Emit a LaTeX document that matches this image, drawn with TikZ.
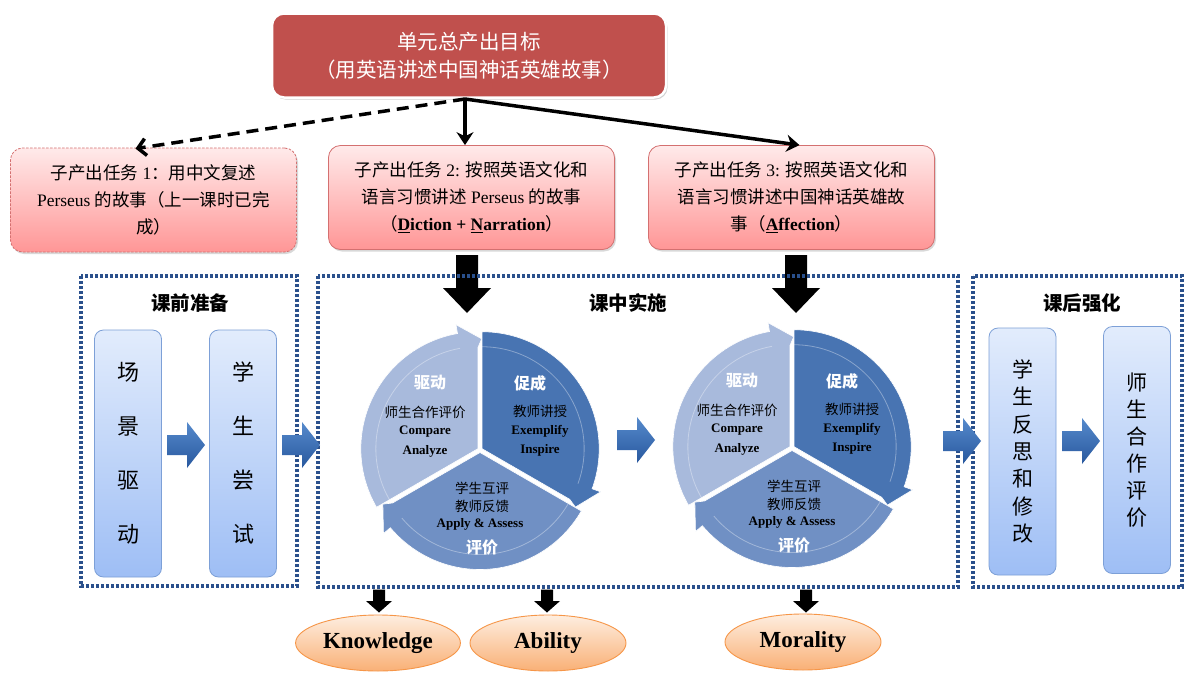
\documentclass[tikz,border=0pt]{standalone}
\usepackage{fontspec}
\setmainfont{Liberation Serif}
\newfontfamily\cjk{Noto Sans CJK SC}
\usetikzlibrary{arrows.meta,shapes.geometric,shadows,calc}
\newcommand\zh[1]{{\cjk #1}}
\definecolor{goalred}{RGB}{192,80,77}
\definecolor{taskTop}{RGB}{255,234,234}
\definecolor{taskBot}{RGB}{255,150,150}
\definecolor{taskBorder}{RGB}{212,112,112}
\definecolor{blueTop}{RGB}{226,236,252}
\definecolor{blueBot}{RGB}{158,190,245}
\definecolor{blueBorder}{RGB}{125,160,215}
\definecolor{arrTop}{RGB}{86,138,204}
\definecolor{arrBot}{RGB}{40,88,158}
\definecolor{segA}{RGB}{168,186,220}
\definecolor{segB}{RGB}{72,116,178}
\definecolor{segC}{RGB}{112,144,196}
\definecolor{orTop}{RGB}{254,238,224}
\definecolor{orBot}{RGB}{249,176,118}
\definecolor{orBorder}{RGB}{246,150,72}
\definecolor{dotblue}{RGB}{42,80,140}
\newcommand\segment[4]{%
  \begin{scope}[shift={(#1:2.5pt)}]
    \fill[#4, draw=white, line width=0.6pt] (0,0) -- (#2:117pt)
      arc[start angle=#2, end angle={#3+10}, radius=117pt]
      -- ({#3+10}:126pt) -- ({#3-2}:110pt) -- (#3:101pt) -- cycle;
    \draw[white, opacity=0.35, line width=0.8pt] (#2:102pt)
      arc[start angle=#2, end angle={#3+10}, radius=102pt];
  \end{scope}}
\newcommand\cyc[2]{%
  \begin{scope}[shift={#2}]
    \segment{30}{90}{-30}{segB}
    \segment{270}{330}{210}{segC}
    \segment{150}{210}{90}{segA}
    \node[hdr] (#1-drive) at (-50,-67) {驱动};
    \node[ctext] (#1-d1) at (-55,-38) {\zh{师生合作评价}};
    \node[etext] (#1-d2) at (-55,-18) {Compare};
    \node[etext] (#1-d3) at (-55,1) {Analyze};
    \node[hdr] (#1-promote) at (50,-67) {促成};
    \node[ctext] (#1-p1) at (60,-39) {\zh{教师讲授}};
    \node[etext] (#1-p2) at (60,-19) {Exemplify};
    \node[etext] (#1-p3) at (60,0) {Inspire};
    \node[ctext] (#1-e1) at (2,38) {\zh{学生互评}};
    \node[ctext] (#1-e2) at (2,56) {\zh{教师反馈}};
    \node[etext] (#1-e3) at (0,74) {Apply \& Assess};
    \node[hdr] (#1-eval) at (2,97) {评价};
  \end{scope}}
\begin{document}
\begin{tikzpicture}[x=1pt,y=-1pt,
  goal/.style={rounded corners=12pt, fill=goalred, draw=white, line width=2.5pt,
    minimum width=394pt, minimum height=84pt, text=white, align=center,
    font=\cjk\fontsize{20.5}{28}\selectfont,
    drop shadow={opacity=0.35, shadow xshift=1.5pt, shadow yshift=-2pt}},
  task/.style={rounded corners=12pt, draw=taskBorder, line width=0.8pt,
    top color=taskTop, bottom color=taskBot, minimum width=286pt, minimum height=104pt,
    align=center, font=\fontsize{17.5}{27}\selectfont,
    drop shadow={opacity=0.3, shadow xshift=1.5pt, shadow yshift=-2pt}},
  vbox/.style={rounded corners=9pt, draw=blueBorder, line width=0.8pt,
    top color=blueTop, bottom color=blueBot, minimum width=67pt, minimum height=247pt,
    align=center},
  dotbox/.style={draw=dotblue, line width=3.4pt, dash pattern=on 3.4pt off 1.6pt},
  title/.style={font=\cjk\bfseries\fontsize{19.5}{22}\selectfont},
  hdr/.style={text=white, font=\cjk\bfseries\fontsize{16}{18}\selectfont},
  ctext/.style={font=\fontsize{13.5}{15}\selectfont},
  etext/.style={font=\bfseries\fontsize{13}{15}\selectfont},
  outcome/.style={ellipse, draw=orBorder, line width=0.9pt, top color=orTop, bottom color=orBot,
    minimum width=156pt, minimum height=56pt, font=\bfseries\fontsize{23}{25}\selectfont},
  conn/.style={line width=3.5pt, -{Stealth[length=13pt,width=17pt]}},
  dconn/.style={line width=3.5pt, dash pattern=on 12pt off 7pt, -{Straight Barb[length=8pt,width=17pt]}},
  bluearrow/.pic={\path[top color=arrTop, bottom color=arrBot] (-19,-10) -- (1,-10) -- (1,-23) -- (19,0) -- (1,23) -- (1,10) -- (-19,10) -- cycle;},
  bigdown/.pic={\fill[black] (-11,-29) -- (11,-29) -- (11,4) -- (24,4) -- (0,29) -- (-24,4) -- (-11,4) -- cycle;},
  smalldown/.pic={\fill[black] (-6,-11.5) -- (6,-11.5) -- (6,0) -- (13,0) -- (0,11.5) -- (-13,0) -- (-6,0) -- cycle;}
]
\useasboundingbox[fill=white] (0,0) rectangle (1184,675);

% goal
\node[goal] (goal) at (469,55.5) {单元总产出目标\\（用英语讲述中国神话英雄故事）};

% tasks
\node[task, dashed, dash pattern=on 2.5pt off 1.5pt] (t1) at (153.5,200)
  {\zh{子产出任务} 1\zh{：用中文复述}\\ Perseus \zh{的故事（上一课时已完}\\ \zh{成）}};
\node[task] (t2) at (471.5,197.5)
  {\zh{子产出任务} 2: \zh{按照英语文化和}\\ \zh{语言习惯讲述} Perseus \zh{的故事}\\
   \zh{（}\textbf{\underline{D}iction + \underline{N}arration}\zh{）}};
\node[task] (t3) at (791.5,197.5)
  {\zh{子产出任务} 3: \zh{按照英语文化和}\\ \zh{语言习惯讲述中国神话英雄故}\\
   \zh{事（}\textbf{\underline{A}ffection}\zh{）}};

% connectors from goal
\coordinate (src) at (465,99);
\coordinate (t1in) at ($(t1.north)+(-18,1)$);
\coordinate (t3in) at ($(t3.north)+(8,0)$);
\draw[dconn] (src) -- (t1in);
\draw[conn] (src) -- (src |- t2.north);
\draw[conn] (src) -- (t3in);

% big black down arrows
\pic at (467,284) {bigdown};
\pic at (796,284) {bigdown};

% dotted frames
\draw[dotbox] (81,276) rectangle (297,586);
\draw[dotbox] (318,276) rectangle (958,587);
\draw[dotbox] (973,276) rectangle (1182,587);
\node[title] (pre) at (190,303) {课前准备};
\node[title] (mid) at (628,303) {课中实施};
\node[title] (post) at (1082,303) {课后强化};

% vertical boxes
\node[vbox, font=\cjk\fontsize{22}{54}\selectfont] (v1) at (128,453.5) {场\\景\\驱\\动};
\node[vbox, font=\cjk\fontsize{22}{54}\selectfont] (v2) at (243,453.5) {学\\生\\尝\\试};
\node[vbox, font=\cjk\fontsize{21}{27.3}\selectfont] (v3) at (1022.5,451.5) {学\\生\\反\\思\\和\\修\\改};
\node[vbox, font=\cjk\fontsize{21}{27}\selectfont] (v4) at (1137,450) {师\\生\\合\\作\\评\\价};

% cycles
\cyc{c1}{(480,450)}
\cyc{c2}{(792,448)}

% blue arrows
\pic at (186,445) {bluearrow};
\pic at (301,445) {bluearrow};
\pic at (636,440) {bluearrow};
\pic at (962,441) {bluearrow};
\pic at (1081,441) {bluearrow};

% small down arrows
\pic at (379,601) {smalldown};
\pic at (547,601) {smalldown};
\pic at (806,601) {smalldown};

% outcomes
\node[outcome] (know) at (378,643) {Knowledge};
\node[outcome] (abil) at (548,643) {Ability};
\node[outcome] (moral) at (803,642) {Morality};
\end{tikzpicture}
\end{document}
